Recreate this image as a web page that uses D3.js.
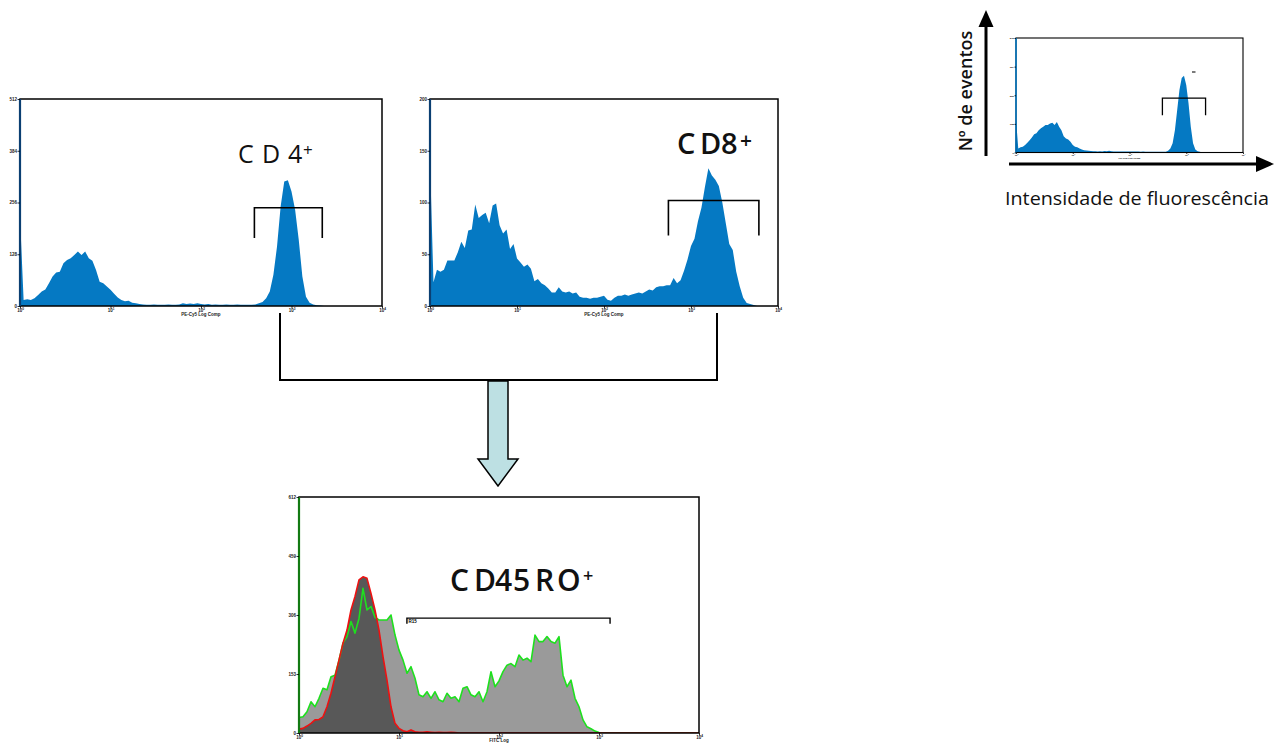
<!DOCTYPE html>
<html><head><meta charset="utf-8">
<script src="https://cdn.jsdelivr.net/npm/d3@7"></script>
<style>body{margin:0;background:#fff} svg{display:block}</style>
</head><body>
<svg id="c" width="1275" height="743"></svg>
<script>
// ---------- data ----------
const binStep = 0.04; // decades per histogram channel
const xTickValues = [1, 10, 100, 1000, 10000];
const xTickExponents = ["0", "1", "2", "3", "4"];
const cd4YTicks = [0, 128, 256, 384, 512];
const cd8YTicks = [0, 50, 100, 150, 200];
const cd45YTicks = [0, 153, 306, 459, 612];
const insetYTicks = [0, 128, 256, 384, 512];

const cd4Counts = [221,15,17,15,19,27,36,41,56,73,
  83,85,106,114,118,126,135,126,135,118,
  112,89,60,56,48,40,30,21,15,12,
  13,8,7,5,4,3,3,4,3,3,
  3,4,3,3,4,7,5,6,5,7,
  5,4,5,3,4,3,3,4,3,3,
  4,3,3,3,3,4,7,10,19,36,
  77,147,246,308,311,283,238,164,73,23,
  8,4,2,1,0,0,0,0,0,0,
  0,0,0,0,0,0,0,0,0,0,0];

const cd8Counts = [140,23,35,33,35,44,44,44,52,62,
  56,73,74,98,85,88,90,80,97,99,
  78,70,74,55,60,46,42,38,40,36,
  24,26,22,20,17,13,13,18,14,13,
  14,12,13,9,8,8,7,8,8,9,
  10,6,5,8,10,10,11,10,11,12,
  13,12,14,16,15,18,19,19,20,20,
  27,22,25,34,45,58,65,82,95,115,
  133,126,122,116,100,80,60,54,33,19,
  8,3,2,1,0,0,0,0,0,0,0];

const cd45TotalCounts = [40,42,55,81,68,90,116,112,146,150,
  189,233,250,289,259,297,375,319,328,300,
  293,293,293,306,254,215,189,155,172,142,
  99,94,107,90,107,86,81,103,90,94,
  81,116,120,99,94,107,81,107,159,120,
  135,159,176,180,172,202,189,194,185,254,
  237,237,250,237,233,250,150,120,137,90,
  68,34,16,11,5,1,0,0,0,0,
  0,0,0,0,0,0,0,0,0,0,
  0,0,0,0,0,0,0,0,0,0,0];

const cd45ControlCounts = [10,12,18,25,34,35,42,68,103,146,
  189,233,267,319,354,397,405,401,362,319,
  267,198,137,68,25,12,6,3,8,3,
  2,2,3,2,1,2,1,1,2,1,
  0,0,0,0,0,0,0,0,0,0,
  0,0,0,0,0,0,0,0,0,0,
  0,0,0,0,0,0,0,0,0,0,
  0,0,0,0,0,0,0,0,0,0,
  0,0,0,0,0,0,0,0,0,0,
  0,0,0,0,0,0,0,0,0,0,0];

const insetCounts = [150,18,23,26,33,44,55,67,82,86,
  100,108,115,123,123,130,133,123,136,115,
  100,73,63,58,48,33,26,23,18,13,
  10,9,8,7,6,6,5,6,5,7,
  6,8,6,5,5,4,5,4,4,5,
  4,4,5,4,4,3,4,3,3,3,
  3,3,3,3,3,3,3,8,18,41,
  100,189,280,333,343,302,220,115,41,13,
  6,3,0,0,0,0,0,0,0,0,
  0,0,0,0,0,0,0,0,0,0,0];

// gates: [low, high] fluorescence, [bar level, leg end level]
const cd4GateRange = [389, 2188], cd4GateLevels = [243, 168];
const cd8GateRange = [550, 6030], cd8GateLevels = [102, 68];
const cd45GateRange = [12, 1290], cd45GateLevels = [298, 283];
const insetGateRange = [380, 2190], insetGateLevels = [243, 167];

const panelLabels = ["CD4", "CD8", "CD45RO"];
const xAxisLabel = "PE-Cy5 Log Comp";

// ---------- drawing ----------
const svg = d3.select("#c");
const blue = "#0579c3";

function panel(o) {
  const x = d3.scaleLog().domain([1, 10000]).range([o.x0, o.x1]);
  const y = d3.scaleLinear().domain([0, o.ymax]).range([o.y1, o.y0]);
  const g = svg.append("g");
  const id = "clip" + Math.round(o.x0);
  svg.append("clipPath").attr("id", id).append("rect")
    .attr("x", o.x0).attr("y", o.y0).attr("width", o.x1 - o.x0).attr("height", o.y1 - o.y0);
  const px = (d, i) => x(Math.pow(10, i * binStep));
  const gc = g.append("g").attr("clip-path", `url(#${id})`);
  o.series.forEach(s => {
    const area = d3.area().x(px).y0(o.y1).y1(d => y(d));
    gc.append("path").datum(s.data).attr("d", area).attr("fill", s.fill);
  });
  o.series.forEach(s => {
    if (s.line) {
      const line = d3.line().x(px).y(d => y(d));
      gc.append("path").datum(s.data).attr("d", line).attr("fill", "none")
        .attr("stroke", s.line).attr("stroke-width", s.lw || 1.6).attr("stroke-linejoin", "round");
    }
  });
  // frame
  g.append("rect").attr("x", o.x0).attr("y", o.y0).attr("width", o.x1 - o.x0).attr("height", o.y1 - o.y0)
    .attr("fill", "none").attr("stroke", "#000").attr("stroke-width", o.frameW || 1.5);
  g.append("line").attr("x1", o.x0).attr("x2", o.x0).attr("y1", o.y0).attr("y2", o.y1)
    .attr("stroke", o.leftColor).attr("stroke-width", o.leftW || 2.2);
  // axes
  const fs = o.tickFont;
  const ya = g.append("g").attr("transform", `translate(${o.x0},0)`)
    .call(d3.axisLeft(y).tickValues(o.yTicks).tickSize(o.tickLen).tickPadding(0.5).tickFormat(d3.format("d")));
  ya.select(".domain").remove();
  ya.selectAll("line").attr("stroke", "#000").attr("stroke-width", 0.8);
  ya.selectAll("text").attr("font-size", fs).attr("font-weight", "bold").attr("font-family", "Liberation Sans, Arial, sans-serif").attr("fill", "#222");
  const xa = g.append("g").attr("transform", `translate(0,${o.y1})`)
    .call(d3.axisBottom(x).tickValues(xTickValues).tickSize(o.tickLen).tickPadding(0));
  xa.select(".domain").remove();
  xa.selectAll("line").attr("stroke", "#000").attr("stroke-width", 0.8);
  xa.selectAll("text").attr("font-size", fs).attr("font-weight", "bold").attr("font-family", "Liberation Sans, Arial, sans-serif").attr("fill", "#222")
    .each(function(d, i) {
      const t = d3.select(this).text("10");
      t.append("tspan").attr("dy", -fs * 0.4).attr("font-size", fs * 0.7).text(xTickExponents[i]);
    });
  if (o.xlabel) {
    g.append("text").attr("x", (o.x0 + o.x1) / 2).attr("y", o.y1 + o.xlabelDy)
      .attr("text-anchor", "middle").attr("font-size", fs).attr("font-weight", "bold")
      .attr("font-family", "Liberation Sans, Arial, sans-serif").attr("fill", "#222").text(o.xlabel);
  }
  // gate bracket
  if (o.gate) {
    const [a, b] = o.gate.range, [lv, le] = o.gate.levels;
    g.append("path")
      .attr("d", `M${x(a)},${y(le)}V${y(lv)}H${x(b)}V${y(le)}`)
      .attr("fill", "none").attr("stroke", "#000").attr("stroke-width", o.gate.w || 1.6);
  }
  return {x, y, g};
}

// CD4
const p1 = panel({x0: 20, x1: 382, y0: 99, y1: 306, ymax: 512, yTicks: cd4YTicks,
  series: [{data: cd4Counts, fill: blue}], leftColor: "#0b3f72", tickLen: 2.5, tickFont: 4.5,
  xlabel: xAxisLabel, xlabelDy: 10, gate: {range: cd4GateRange, levels: cd4GateLevels}});
// CD8
const p2 = panel({x0: 430, x1: 778, y0: 99, y1: 306, ymax: 200, yTicks: cd8YTicks,
  series: [{data: cd8Counts, fill: blue}], leftColor: "#0b3f72", tickLen: 2.5, tickFont: 4.5,
  xlabel: xAxisLabel, xlabelDy: 10, gate: {range: cd8GateRange, levels: cd8GateLevels}});
// CD45RO
const p3 = panel({x0: 299, x1: 699, y0: 497, y1: 733, ymax: 612, yTicks: cd45YTicks,
  series: [{data: cd45TotalCounts, fill: "#9a9a9a", line: "#1ee01e", lw: 1.6},
           {data: cd45ControlCounts, fill: "#585858", line: "#ee1111", lw: 1.6}],
  leftColor: "#127a12", tickLen: 2.5, tickFont: 4.5,
  xlabel: "FITC Log", xlabelDy: 8.5, gate: {range: cd45GateRange, levels: cd45GateLevels, w: 1.4}});
p3.g.append("text").attr("x", p3.x(cd45GateRange[0]) + 1.5).attr("y", p3.y(cd45GateLevels[0]) + 5)
  .attr("font-size", 4.5).attr("font-weight", "bold").attr("font-family", "Liberation Sans, Arial, sans-serif").text("R15");
// Inset
const p4 = panel({x0: 1016, x1: 1243, y0: 38, y1: 152.5, ymax: 512, yTicks: insetYTicks,
  series: [{data: insetCounts, fill: blue}], leftColor: "#0579c3", leftW: 1.6, frameW: 1.1, tickLen: 1.5, tickFont: 2.5,
  xlabel: xAxisLabel, xlabelDy: 6.5, gate: {range: insetGateRange, levels: insetGateLevels, w: 1.3}});
p4.g.append("line").attr("x1", 1192).attr("x2", 1195.5).attr("y1", 72).attr("y2", 72).attr("stroke", "#222").attr("stroke-width", 1.2);

// big labels
function bigLabel(chars, xs, baseline, size, weight, plusX, plusY, plusSize) {
  const t = svg.append("text").attr("font-family", "Open Sans, sans-serif").attr("font-size", size)
    .attr("font-weight", weight).attr("fill", "#111");
  chars.split("").forEach((c, i) => t.append("tspan").attr("x", xs[i]).attr("y", baseline).text(c));
  t.append("tspan").attr("x", plusX).attr("y", plusY).attr("font-size", plusSize).text("+");
}
bigLabel(panelLabels[0], [238, 262, 288], 163, 25, 400, 303, 156, 17);
bigLabel(panelLabels[1], [677, 700, 721], 154, 29, 600, 740, 148, 21);
bigLabel(panelLabels[2], [450, 474, 495, 513, 535, 557], 591, 30, 600, 583, 582, 18);

// connector and arrow
svg.append("path").attr("d", "M280,313V380H717V313").attr("fill", "none").attr("stroke", "#000").attr("stroke-width", 2);
svg.append("path").attr("d", "M488,381V459H478L498,486L518,459H508V381Z")
  .attr("fill", "#bde0e3").attr("stroke", "#000").attr("stroke-width", 1.5).attr("stroke-linejoin", "miter");

// inset axes arrows
svg.append("line").attr("x1", 986).attr("x2", 986).attr("y1", 156).attr("y2", 24).attr("stroke", "#000").attr("stroke-width", 3);
svg.append("path").attr("d", "M978.5,27L986,10L993.5,27Z").attr("fill", "#000");
svg.append("line").attr("x1", 1009).attr("x2", 1259).attr("y1", 164).attr("y2", 164).attr("stroke", "#000").attr("stroke-width", 3);
svg.append("path").attr("d", "M1256,156L1274,164L1256,172Z").attr("fill", "#000");
svg.append("text").attr("transform", "translate(972,91) rotate(-90)").attr("text-anchor", "middle")
  .attr("font-family", "Open Sans, sans-serif").attr("font-size", 18).attr("font-weight", 600).attr("fill", "#111")
  .text("Nº de eventos");
svg.append("text").attr("x", 1005).attr("y", 205).attr("textLength", 264).attr("lengthAdjust", "spacingAndGlyphs")
  .attr("font-family", "Open Sans, sans-serif").attr("font-size", 18).attr("font-weight", 500).attr("fill", "#111")
  .text("Intensidade de fluorescência");
</script>
</body></html>
